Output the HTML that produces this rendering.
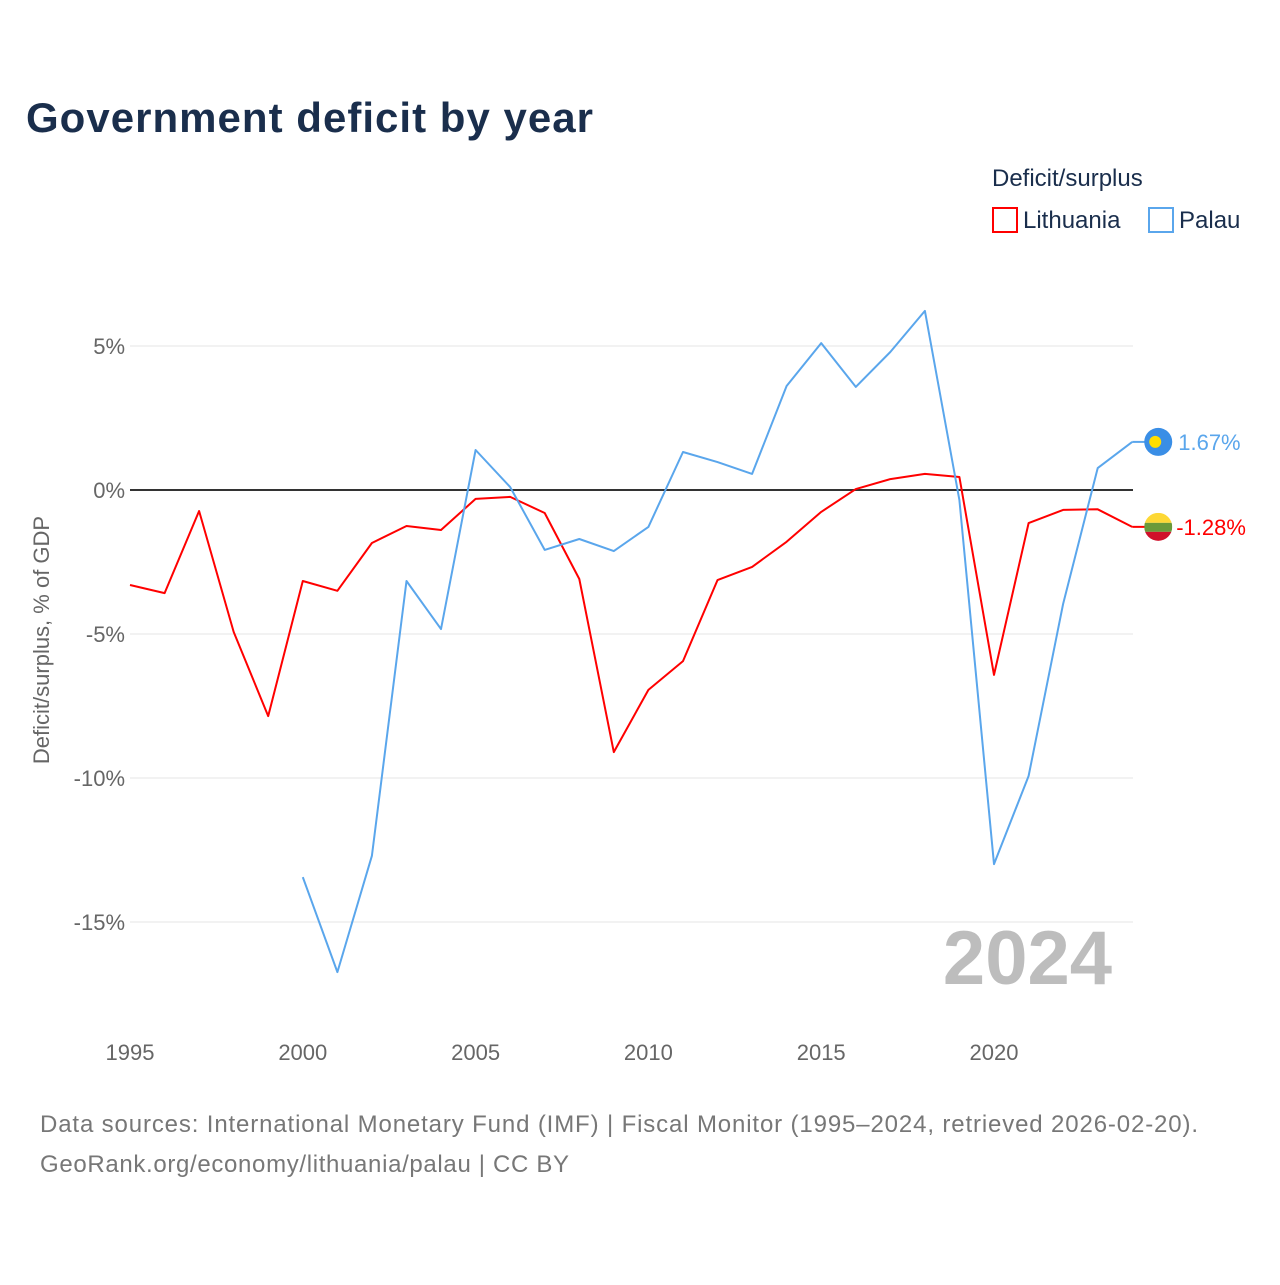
<!DOCTYPE html>
<html><head><meta charset="utf-8"><style>
body{margin:0;background:#fff;font-family:"Liberation Sans",sans-serif}
svg text{font-family:"Liberation Sans",sans-serif}
</style></head><body>
<svg id="chart" width="1280" height="1280" xmlns="http://www.w3.org/2000/svg">
<text x="26" y="132" font-size="42" font-weight="bold" fill="#1a2e4c" textLength="567" lengthAdjust="spacing">Government deficit by year</text>
<text x="992" y="186" font-size="24" fill="#1a2e4c">Deficit/surplus</text>
<rect x="993" y="208" width="24" height="24" fill="none" stroke="#ff0000" stroke-width="2"/>
<text x="1023" y="228" font-size="24" fill="#1a2e4c">Lithuania</text>
<rect x="1149" y="208" width="24" height="24" fill="none" stroke="#5aa6ec" stroke-width="2"/>
<text x="1179" y="228" font-size="24" fill="#1a2e4c">Palau</text>
<text transform="translate(49,640) rotate(-90)" text-anchor="middle" font-size="22" fill="#666">Deficit/surplus, % of GDP</text>
<text x="1112" y="984" text-anchor="end" font-size="76" font-weight="bold" fill="#bdbdbd">2024</text>
<g id="grid"></g><g id="series"></g>
<text x="40" y="1132" font-size="24" fill="#777" textLength="1158" lengthAdjust="spacing">Data sources: International Monetary Fund (IMF) | Fiscal Monitor (1995–2024, retrieved 2026-02-20).</text>
<text x="40" y="1172" font-size="24" fill="#777" textLength="529" lengthAdjust="spacing">GeoRank.org/economy/lithuania/palau | CC BY</text>
</svg>
<script>
const years=[1995,1996,1997,1998,1999,2000,2001,2002,2003,2004,2005,2006,2007,2008,2009,2010,2011,2012,2013,2014,2015,2016,2017,2018,2019,2020,2021,2022,2023,2024];
const lithuania=[-3.3,-3.58,-0.73,-4.93,-7.85,-3.16,-3.5,-1.84,-1.25,-1.39,-0.31,-0.24,-0.8,-3.09,-9.1,-6.94,-5.94,-3.13,-2.67,-1.8,-0.76,0.03,0.38,0.56,0.45,-6.42,-1.15,-0.69,-0.67,-1.28];
const palau=[null,null,null,null,null,-13.44,-16.74,-12.7,-3.16,-4.83,1.39,0.1,-2.08,-1.7,-2.12,-1.28,1.32,0.97,0.56,3.61,5.1,3.58,4.79,6.22,-0.35,-12.99,-9.93,-3.96,0.76,1.67];
const yTicks=[5,0,-5,-10,-15];
const yTickLabels=["5%","0%","-5%","-10%","-15%"];
const xTicks=[1995,2000,2005,2010,2015,2020];
const NS="http://www.w3.org/2000/svg";
const X=y=>130+(y-1995)*34.56;
const Y=v=>490-v*28.8;
function mk(t,a,p){const e=document.createElementNS(NS,t);for(const k in a)e.setAttribute(k,a[k]);p.appendChild(e);return e;}
const g=document.getElementById('grid'),s=document.getElementById('series');
yTicks.forEach((v,i)=>{
 const l=mk('line',{x1:130,x2:1133,y1:Y(v),y2:Y(v),stroke:v===0?'#333':'#e6e6e6','stroke-width':v===0?2:1},g);
 
 
 const t=mk('text',{x:125,y:Y(v)+8,'text-anchor':'end','font-size':22,fill:'#666'},g);t.textContent=yTickLabels[i];
 
 
});
xTicks.forEach(y=>{
 const t=mk('text',{x:X(y),y:1060,'text-anchor':'middle','font-size':22,fill:'#666'},g);t.textContent=y;
 
 
});
function line(vals,color,name){
 let d='';vals.forEach((v,i)=>{if(v===null)return;d+=(d?'L':'M')+X(years[i]).toFixed(1)+','+Y(v).toFixed(1);});
 const p=mk('path',{d:d,fill:'none',stroke:color,'stroke-width':2,'stroke-linejoin':'round'},s);
 
 
}
line(lithuania,'#ff0000','lithuania-line');
line(palau,'#5aa6ec','palau-line');
const lx=X(2024);
const lv=lithuania[lithuania.length-1],pv=palau[palau.length-1];
mk('line',{x1:lx,x2:lx+14,y1:Y(lv),y2:Y(lv),stroke:'#ff0000','stroke-width':2},s);
mk('line',{x1:lx,x2:lx+14,y1:Y(pv),y2:Y(pv),stroke:'#5aa6ec','stroke-width':2},s);
const pf=mk('circle',{cx:lx+26,cy:Y(pv),r:14,fill:'#3a8ee6'},s);


mk('circle',{cx:lx+23,cy:Y(pv),r:6,fill:'#ffde00'},s);
const cy=Y(lv),cx=lx+26;
mk('clipPath',{id:'lc'},s);
const cp=document.getElementById('lc');mk('circle',{cx:cx,cy:cy,r:14},cp);
const lg=mk('g',{'clip-path':'url(#lc)'},s);


mk('rect',{x:cx-14,y:cy-14,width:28,height:10,fill:'#fdd835'},lg);
mk('rect',{x:cx-14,y:cy-4,width:28,height:9,fill:'#6a9a3a'},lg);
mk('rect',{x:cx-14,y:cy+5,width:28,height:10,fill:'#d0102a'},lg);
const pt=mk('text',{x:lx+46,y:Y(pv)+8,'font-size':22,fill:'#5aa6ec'},s);pt.textContent=pv.toFixed(2)+'%';


const lt=mk('text',{x:lx+44,y:Y(lv)+8,'font-size':22,fill:'#ff0000'},s);lt.textContent=lv.toFixed(2)+'%';


</script>
</body></html>
